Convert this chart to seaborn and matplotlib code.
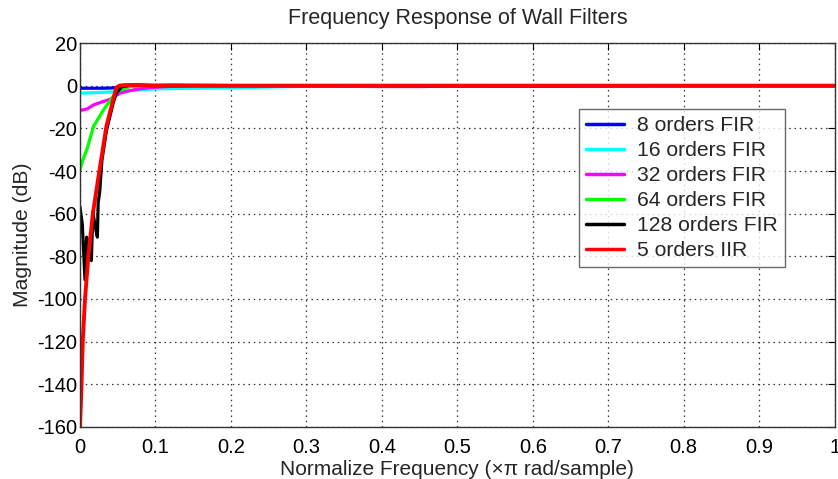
import numpy as np
import pandas as pd
import matplotlib
matplotlib.use("Agg")
import matplotlib.pyplot as plt
import seaborn as sns

# ---- data ----
labels = ["8 orders FIR", "16 orders FIR", "32 orders FIR",
          "64 orders FIR", "128 orders FIR", "5 orders IIR"]
colors = ["#0000ff", "#00ffff", "#ff00ff", "#00ff00", "#000000", "#ff0000"]

freq_8 = [0, 0.01, 0.02, 0.03, 0.04, 0.046, 0.05, 0.06, 0.08, 0.1, 0.2, 0.4, 0.45, 0.5, 0.6, 0.8, 1.0]
mag_8 = [-1.2, -1.2, -1.2, -1.2, -1.1, -1.0, -0.6, -0.2, 0.0, 0.0, 0.0, -0.4, -0.4, -0.2, -0.3, 0.0, 0.0]

freq_16 = [0, 0.02, 0.04, 0.06, 0.08, 0.1, 0.15, 0.2, 0.3, 0.5, 1.0]
mag_16 = [-3.5, -3.3, -3.0, -2.5, -2.0, -1.5, -1.2, -1.0, -0.3, 0.0, 0.0]

freq_32 = [0, 0.005, 0.01, 0.018, 0.03, 0.04, 0.053, 0.065, 0.075, 0.093, 0.12, 0.15, 0.2, 1.0]
mag_32 = [-11.5, -11.3, -10.8, -9.0, -7.5, -6.4, -3.5, -2.4, -1.7, -0.9, -0.3, 0.0, 0.0, 0.0]

freq_64 = [0, 0.0035, 0.009, 0.018, 0.031, 0.044, 0.053, 0.066, 0.08, 0.1, 0.12, 0.2, 1.0]
mag_64 = [-39.5, -35.0, -30.0, -19.0, -11.4, -5.0, -2.0, -0.5, 0.0, 0.3, 0.5, 0.1, 0.0]

freq_128 = [0, 0.003, 0.0066, 0.0088, 0.012, 0.015, 0.017, 0.02, 0.023, 0.024, 0.026,
            0.029, 0.035, 0.044, 0.048, 0.055, 0.07, 0.1, 1.0]
mag_128 = [-57.0, -65.0, -91.0, -71.0, -80.0, -82.0, -59.0, -66.0, -71.0, -55.0, -50.0,
           -35.0, -21.0, -8.0, -3.6, -0.5, 0.3, 0.0, 0.0]

freq_iir = [0, 0.001, 0.002, 0.0036, 0.0066, 0.011, 0.017, 0.0256, 0.035, 0.045, 0.048,
            0.052, 0.06, 0.08, 0.1, 1.0]
mag_iir = [-160.0, -150.0, -140.0, -120.0, -100.0, -80.0, -60.0, -40.0, -19.0, -5.0, -1.0,
           0.0, 0.3, 0.3, 0.0, 0.0]

x_ticks = [0, 0.1, 0.2, 0.3, 0.4, 0.5, 0.6, 0.7, 0.8, 0.9, 1]
x_ticklabels = ["0", "0.1", "0.2", "0.3", "0.4", "0.5", "0.6", "0.7", "0.8", "0.9", "1"]
y_ticks = [-160, -140, -120, -100, -80, -60, -40, -20, 0, 20]

series = [(freq_8, mag_8), (freq_16, mag_16), (freq_32, mag_32),
          (freq_64, mag_64), (freq_128, mag_128), (freq_iir, mag_iir)]

rows = []
for lab, (f, m) in zip(labels, series):
    for fx, my in zip(f, m):
        rows.append({"freq": fx, "mag": my, "filter": lab})
df = pd.DataFrame(rows)

# ---- style ----
sns.set_style("white")
plt.rcParams["font.family"] = ["Liberation Sans", "DejaVu Sans"]
plt.rcParams["axes.unicode_minus"] = False
plt.rcParams["xtick.direction"] = "in"
plt.rcParams["ytick.direction"] = "in"

fig = plt.figure(figsize=(8.38, 4.79), dpi=100)
ax = fig.add_axes([0.0955, 0.1086, 0.9005, 0.8016])

sns.lineplot(data=df, x="freq", y="mag", hue="filter", hue_order=labels,
             palette=dict(zip(labels, colors)), estimator=None, sort=False,
             units="filter", linewidth=2.3, ax=ax)
for line in ax.get_lines():
    c = matplotlib.colors.to_hex(line.get_color())
    if c == "#ff0000":
        line.set_linewidth(2.8)

ax.set_xlim(0, 1)
ax.set_ylim(-160, 20)
ax.set_xticks(x_ticks)
ax.set_xticklabels(x_ticklabels)
ax.set_yticks(y_ticks)
ax.tick_params(axis="both", labelsize=14.5, length=5, width=0.8,
               top=True, right=True, colors="black")
ax.tick_params(axis="x", pad=8)
ax.tick_params(axis="y", pad=2)
ax.grid(True, linestyle=(0, (1.2, 3)), color="#333333", linewidth=0.9)
for s in ax.spines.values():
    s.set_color("#333333")
    s.set_linewidth(1.0)
    s.set_visible(True)

ax.set_title("Frequency Response of Wall Filters", fontsize=15.5, pad=14)
ax.set_xlabel("Normalize Frequency (\u00d7\u03c0 rad/sample)", fontsize=15, labelpad=2)
ax.set_ylabel("Magnitude (dB)", fontsize=15.2, labelpad=4)

leg = ax.legend(loc="upper left", bbox_to_anchor=(0.661, 0.828), fontsize=15.2,
                frameon=True, fancybox=False, edgecolor="#444444",
                handlelength=1.8, labelspacing=0.28, borderpad=0.35,
                handletextpad=0.62, borderaxespad=0)
leg.get_frame().set_linewidth(1.0)
for h in leg.get_lines():
    h.set_linewidth(2.5)

fig.savefig("out.png", dpi=100, facecolor="white")
